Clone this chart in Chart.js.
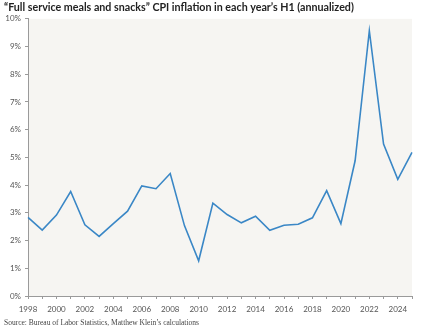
<!DOCTYPE html>
<html lang="en">
<head>
  <meta charset="UTF-8" />
  <title>Full service meals and snacks CPI</title>
  <script src="https://cdn.jsdelivr.net/npm/chart.js"></script>
  <style>
    body {
      margin: 0;
      background: #ffffff;
    }
    .wrap {
      width: 432px;
      height: 334px;
    }
  </style>
</head>
<body>
  <div class="wrap">
    <canvas id="cpiChart" width="432" height="334"></canvas>
  </div>

  <script>
    // H1 annualized CPI inflation, full service meals and snacks (%)
    const years = [1998, 1999, 2000, 2001, 2002, 2003, 2004, 2005, 2006, 2007,
                   2008, 2009, 2010, 2011, 2012, 2013, 2014, 2015, 2016, 2017,
                   2018, 2019, 2020, 2021, 2022, 2023, 2024, 2025];
    const inflation = [2.84, 2.38, 2.92, 3.77, 2.57, 2.15, 2.61, 3.06, 3.97, 3.87,
                       4.42, 2.54, 1.27, 3.35, 2.94, 2.64, 2.88, 2.37, 2.55, 2.59,
                       2.82, 3.80, 2.61, 4.88, 9.57, 5.48, 4.21, 5.18];
    const yTicks = [0, 1, 2, 3, 4, 5, 6, 7, 8, 9, 10];

    const titleText = '\u201CFull service meals and snacks\u201D CPI inflation in each year\u2019s H1 (annualized)';
    const sourceText = 'Source: Bureau of Labor Statistics, Matthew Klein\u2019s calculations';

    // light background behind the plot area
    const plotBg = {
      id: 'plotBg',
      beforeDraw(chart) {
        const { ctx, chartArea } = chart;
        ctx.save();
        ctx.fillStyle = '#f6f5f2';
        ctx.fillRect(chartArea.left, chartArea.top, chartArea.right - chartArea.left, chartArea.bottom - chartArea.top);
        ctx.restore();
      }
    };

    const ctx = document.getElementById('cpiChart').getContext('2d');
    new Chart(ctx, {
      type: 'line',
      data: {
        labels: years,
        datasets: [{
          label: 'CPI inflation',
          data: inflation,
          borderColor: '#3a87c6',
          borderWidth: 1.6,
          pointRadius: 0,
          tension: 0,
          fill: false
        }]
      },
      options: {
        responsive: false,
        animation: false,
        layout: { padding: { top: 0, right: 20, bottom: 0, left: 4 } },
        plugins: {
          legend: { display: false },
          tooltip: { enabled: false },
          title: {
            display: true,
            text: titleText,
            align: 'start',
            color: '#222222',
            font: { family: 'Lato', size: 10.7, weight: 'bold', lineHeight: 1.2 },
            padding: { top: 1, bottom: 5 }
          },
          subtitle: {
            display: true,
            position: 'bottom',
            text: sourceText,
            align: 'start',
            color: '#444444',
            font: { family: 'Liberation Serif', size: 7.5, lineHeight: 1.2 },
            padding: { top: 0, bottom: 6 }
          }
        },
        scales: {
          x: {
            offset: false,
            afterFit(scale) { scale.height = 23; },
            border: { display: true, color: '#9a9a9a', width: 1 },
            grid: { display: true, drawOnChartArea: false, drawTicks: true, tickLength: 3, color: '#9a9a9a' },
            ticks: {
              autoSkip: false,
              maxRotation: 0,
              padding: 6,
              color: '#555555',
              font: { family: 'Lato', size: 8 },
              callback(value) {
                const y = this.getLabelForValue(value);
                return y % 2 === 0 ? String(y) : '';
              }
            }
          },
          y: {
            min: 0,
            max: 10,
            afterFit(scale) { scale.width = 24; },
            afterBuildTicks(scale) { scale.ticks = yTicks.map(v => ({ value: v })); },
            border: { display: true, color: '#9a9a9a', width: 1 },
            grid: { display: true, drawOnChartArea: false, drawTicks: true, tickLength: 3, color: '#9a9a9a' },
            ticks: {
              padding: 4,
              color: '#555555',
              font: { family: 'Lato', size: 8 },
              callback: v => v + '%'
            }
          }
        }
      },
      plugins: [plotBg]
    });
  </script>
</body>
</html>
